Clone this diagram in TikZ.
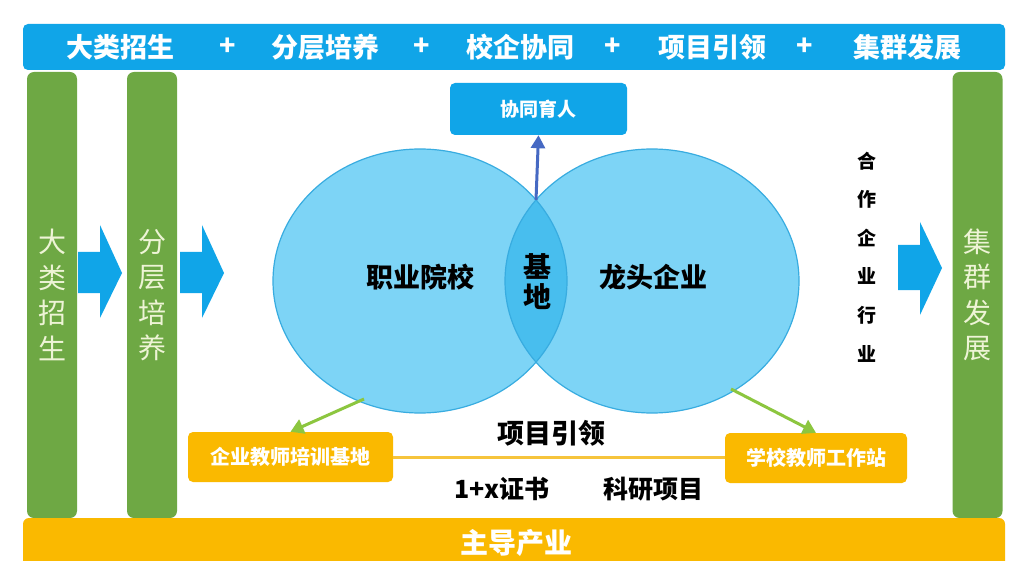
\documentclass[tikz,border=0pt]{standalone}
\usepackage{fontspec}
\setmainfont{Noto Sans CJK SC}
\usetikzlibrary{arrows.meta}
\definecolor{barblue}{RGB}{16,165,232}
\definecolor{bargreen}{RGB}{110,168,68}
\definecolor{baryellow}{RGB}{250,185,0}
\definecolor{circfill}{RGB}{125,212,246}
\definecolor{circdraw}{RGB}{56,172,224}
\definecolor{lensfill}{RGB}{72,190,238}
\definecolor{upblue}{RGB}{70,105,195}
\definecolor{arrgreen}{RGB}{140,198,63}
\definecolor{pale}{RGB}{238,244,214}
\definecolor{linkyellow}{RGB}{246,196,60}
\tikzset{
  topword/.style={text=white, inner sep=0, font=\fontsize{27}{27}\selectfont\bfseries},
  greenbar/.style={fill=bargreen, rounded corners=7pt, minimum width=50pt, minimum height=446pt, inner sep=0,
    text=pale, align=center, font=\fontsize{28}{35.5}\selectfont},
  blockarrow/.style={fill=barblue},
  ybox/.style={fill=baryellow, rounded corners=5pt, inner sep=0, text=white, font=\fontsize{20}{20}\selectfont\bfseries},
  darkword/.style={text=black, inner sep=0, font=\fontsize{27}{27}\selectfont\bfseries},
  greenarrow/.style={arrgreen, line width=3pt, -{Triangle[length=13pt,width=15pt]}},
}
\begin{document}
\begin{tikzpicture}[x=1pt,y=-1pt]
\useasboundingbox (0,0) rectangle (1011,561);
\fill[white] (0,0) rectangle (1011,561);

% top bar
\node[fill=barblue, rounded corners=5pt, minimum width=982pt, minimum height=46pt, inner sep=0] (topbar) at (514,47) {};
\node[topword] (t1) at (120,47) {大类招生};
\node[topword] (p1) at (228,47) {+};
\node[topword] (t2) at (325,47) {分层培养};
\node[topword] (p2) at (422,47) {+};
\node[topword] (t3) at (520,47) {校企协同};
\node[topword] (p3) at (613,47) {+};
\node[topword] (t4) at (712,47) {项目引领};
\node[topword] (p4) at (805,47) {+};
\node[topword] (t5) at (907,47) {集群发展};

% green bars
\node[greenbar] (recruit) at (52,295) {大\\类\\招\\生};
\node[greenbar] (layer) at (152,295) {分\\层\\培\\养};
\node[greenbar] (cluster) at (977.5,295) {集\\群\\发\\展};

% block arrows
\fill[blockarrow] (78,252) -- (100,252) -- (100,225) -- (122,273) -- (100,318) -- (100,293) -- (78,293) -- cycle;
\fill[blockarrow] (180,252) -- (202,252) -- (202,225) -- (224,273) -- (202,318) -- (202,293) -- (180,293) -- cycle;
\fill[blockarrow] (898,245) -- (920,245) -- (920,222) -- (942,268) -- (920,315) -- (920,290) -- (898,290) -- cycle;

% bottom bar
\fill[baryellow] (23,561) -- (23,524) arc[start angle=180, end angle=270, radius=6] -- (999,518) arc[start angle=270, end angle=360, radius=6] -- (1005,561) -- cycle;
\node[text=white, inner sep=0, font=\fontsize{28}{28}\selectfont\bfseries] (industry) at (516,543) {主导产业};

% circles
\fill[circfill] (420,281) ellipse [x radius=147, y radius=132];
\fill[circfill] (652,281) ellipse [x radius=147, y radius=132];
\begin{scope}
  \clip (420,281) ellipse [x radius=147, y radius=132];
  \fill[lensfill] (652,281) ellipse [x radius=147, y radius=132];
\end{scope}
\draw[circdraw, line width=1.2pt] (420,281) ellipse [x radius=147, y radius=132];
\draw[circdraw, line width=1.2pt] (652,281) ellipse [x radius=147, y radius=132];
\node[darkword] (school) at (420,277) {职业院校};
\node[darkword] (firm) at (653,277) {龙头企业};
\node[darkword, align=center, font=\fontsize{28}{30}\selectfont\bfseries] (base) at (537,282) {基\\地};

% goal box
\node[fill=barblue, rounded corners=5pt, minimum width=177pt, minimum height=52pt, inner sep=0, text=white,
  font=\fontsize{19}{19}\selectfont\bfseries] (goal) at (538.5,109) {协同育人};
\coordinate (lenstop) at (536,200);
\draw[upblue, line width=3pt, -{Triangle[length=13pt,width=14pt]}] (lenstop) -- (goal.south);

% cooperating enterprises
\node[text=black, inner sep=0, align=center, font=\fontsize{19}{38.6}\selectfont\bfseries] (coop) at (867,257) {合\\作\\企\\业\\行\\业};

% yellow boxes
\node[ybox, minimum width=205pt, minimum height=50pt] (trainbase) at (290.5,457) {企业教师培训基地};
\node[ybox, minimum width=182pt, minimum height=50pt] (station) at (816,458) {学校教师工作站};
\draw[linkyellow, line width=3pt] (trainbase.east) -- (station.west |- trainbase.east);
\coordinate (ls) at (364,399);
\coordinate (rs) at (731,389);
\draw[greenarrow] (ls) -- (trainbase.north);
\draw[greenarrow] (rs) -- (station.north);

\node[darkword] (lead) at (551,433) {项目引领};
\node[darkword, font=\fontsize{25}{25}\selectfont\bfseries] (cert) at (502,489) {1+x证书};
\node[darkword, font=\fontsize{25}{25}\selectfont\bfseries] (research) at (653,489) {科研项目};
\end{tikzpicture}
\end{document}
